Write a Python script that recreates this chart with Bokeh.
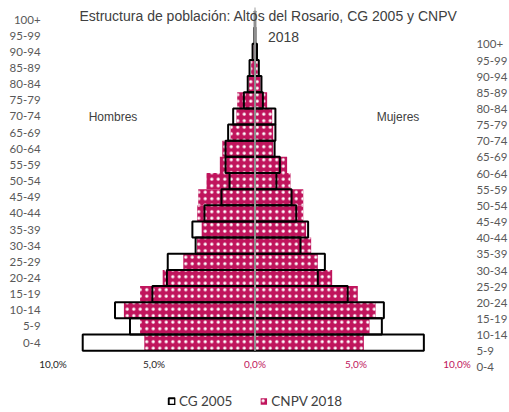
from bokeh.plotting import figure
from bokeh.models import (ColumnDataSource, Range1d, LinearAxis, FixedTicker,
                          Label, Legend, LegendItem)
from bokeh.embed import file_html
from bokeh.resources import INLINE

# ---- data ----
ages = ["0-4", "5-9", "10-14", "15-19", "20-24", "25-29", "30-34", "35-39",
        "40-44", "45-49", "50-54", "55-59", "60-64", "65-69", "70-74",
        "75-79", "80-84", "85-89", "90-94", "95-99", "100+"]
cg2005_hombres = [8.53, 6.19, 6.93, 5.08, 4.36, 4.32, 2.94, 3.10, 2.50, 1.66,
                  1.26, 1.46, 1.46, 1.33, 1.08, 0.55, 0.36, 0.27, 0.12, 0.03, 0.01]
cg2005_mujeres = [8.36, 6.28, 6.38, 4.59, 3.11, 3.46, 2.25, 2.63, 2.04, 1.81,
                  1.06, 1.23, 0.97, 1.01, 1.01, 0.39, 0.32, 0.19, 0.10, 0.02, 0.01]
cnpv2018_hombres = [5.48, 5.69, 6.49, 5.69, 4.57, 3.55, 2.87, 2.64, 2.86, 2.81,
                    2.40, 1.74, 1.62, 1.21, 0.92, 0.88, 0.31, 0.19, 0.06, 0.02, 0.0]
cnpv2018_mujeres = [5.39, 5.67, 5.97, 5.09, 3.82, 3.11, 2.78, 2.53, 2.39, 2.39,
                    1.76, 1.59, 0.90, 0.90, 0.85, 0.60, 0.27, 0.14, 0.05, 0.01, 0.0]
xtick_vals = [-10, -5, 0, 5, 10]
xtick_labels = ["10,0%", "5,0%", "0,0%", "5,0%", "10,0%"]
series_names = ["CG 2005", "CNPV 2018"]

PINK = "#C0145C"
DARK = "#404040"
GRAY_TXT = "#595959"

idx = list(range(len(ages)))
src_cg = ColumnDataSource(dict(y=idx, hl=[-v for v in cg2005_hombres], mr=cg2005_mujeres))
src_cn = ColumnDataSource(dict(y=idx, hl=[-v for v in cnpv2018_hombres], mr=cnpv2018_mujeres))

p = figure(width=509, height=412,
           x_range=Range1d(-12.60, 12.60), y_range=Range1d(-4.33, 21.18),
           output_backend="svg", toolbar_location=None,
           x_axis_location=None, y_axis_location=None,
           min_border_left=0, min_border_right=0,
           min_border_top=0, min_border_bottom=0)
p.title.visible = False
p.outline_line_color = None
p.xgrid.visible = False
p.ygrid.visible = False
p.background_fill_color = "white"

# CNPV 2018 (pink, dotted)
hatch = dict(fill_color=PINK, line_color=None, hatch_pattern="dot",
             hatch_color="white", hatch_scale=6.5, hatch_weight=3)
r_cn = p.hbar(y="y", left="hl", right=0, height=1.0, source=src_cn, **hatch)
p.hbar(y="y", left=0, right="mr", height=1.0, source=src_cn, **hatch)

# CG 2005 (outline)
r_cg = p.hbar(y="y", left="hl", right=0, height=1.0, source=src_cg,
              fill_color="white", fill_alpha=0, line_color="black", line_width=2)
p.hbar(y="y", left=0, right="mr", height=1.0, source=src_cg,
       fill_color="white", fill_alpha=0, line_color="black", line_width=2)

# vertical category axis line
p.segment(x0=0, y0=-0.5, x1=0, y1=len(ages) - 0.26, line_color="#BFBFBF", line_width=1.5)


def plain(ax):
    ax.axis_line_color = None
    ax.major_tick_line_color = None
    ax.minor_tick_line_color = None
    ax.major_tick_out = 0
    ax.major_tick_in = 0
    ax.minor_tick_out = 0
    ax.minor_tick_in = 0


# left age axis
yl = LinearAxis(ticker=FixedTicker(ticks=idx), fixed_location=-10.22,
                major_label_overrides={i: a for i, a in zip(idx, ages)})
# right age axis (secondary)
p.extra_y_ranges = {"r": Range1d(-2.79, 22.72)}
yr = LinearAxis(y_range_name="r", ticker=FixedTicker(ticks=idx), fixed_location=10.12,
                major_label_overrides={i: a for i, a in zip(idx, ages)})
for ax, so in ((yl, 8), (yr, 17)):
    plain(ax)
    ax.major_label_text_font = "Lato"
    ax.major_label_text_font_size = "11.5px"
    ax.major_label_text_color = GRAY_TXT
    ax.major_label_standoff = so
p.add_layout(yl, "left")
p.add_layout(yr, "right")

# x axes: men side (dark) and women side (pink)
xv_m = [v for v in xtick_vals if v < 0]
xv_w = [v for v in xtick_vals if v >= 0]
lab = dict(zip(xtick_vals, xtick_labels))
xa_m = LinearAxis(ticker=FixedTicker(ticks=xv_m),
                  major_label_overrides={v: lab[v] for v in xv_m},
                  fixed_location=-0.56)
xa_w = LinearAxis(ticker=FixedTicker(ticks=xv_w),
                  major_label_overrides={v: lab[v] for v in xv_w},
                  fixed_location=-0.56)
for ax, col in ((xa_m, "#262626"), (xa_w, PINK)):
    plain(ax)
    ax.major_label_text_font = "Lato"
    ax.major_label_text_font_size = "10px"
    ax.major_label_text_color = col
    ax.major_label_standoff = 6
    p.add_layout(ax, "below")

# title and side labels
tfont = "Liberation Sans"
p.add_layout(Label(x=0.67, y=20.19, text="Estructura de población: Altos del Rosario, CG 2005 y CNPV",
                   text_align="center", text_baseline="middle", text_font=tfont,
                   text_font_size="14px", text_color=DARK))
p.add_layout(Label(x=1.41, y=18.95, text="2018", text_align="center", text_baseline="middle",
                   text_font=tfont, text_font_size="14px", text_color=DARK))
p.add_layout(Label(x=-7.03, y=13.99, text="Hombres", text_align="center", text_baseline="middle",
                   text_font=tfont, text_font_size="12px", text_color=DARK))
p.add_layout(Label(x=7.08, y=13.99, text="Mujeres", text_align="center", text_baseline="middle",
                   text_font=tfont, text_font_size="12px", text_color=DARK))

legend = Legend(items=[LegendItem(label=series_names[0], renderers=[r_cg]),
                       LegendItem(label=series_names[1], renderers=[r_cn])],
                location="bottom_center", orientation="horizontal",
                label_text_font="Lato", label_text_font_size="13.5px",
                label_text_color=DARK, glyph_width=8, glyph_height=8,
                spacing=27, label_standoff=4, padding=0, margin=3,
                border_line_color=None, background_fill_alpha=0)
p.add_layout(legend, "center")

open("out.html", "w").write(file_html(p, INLINE))
